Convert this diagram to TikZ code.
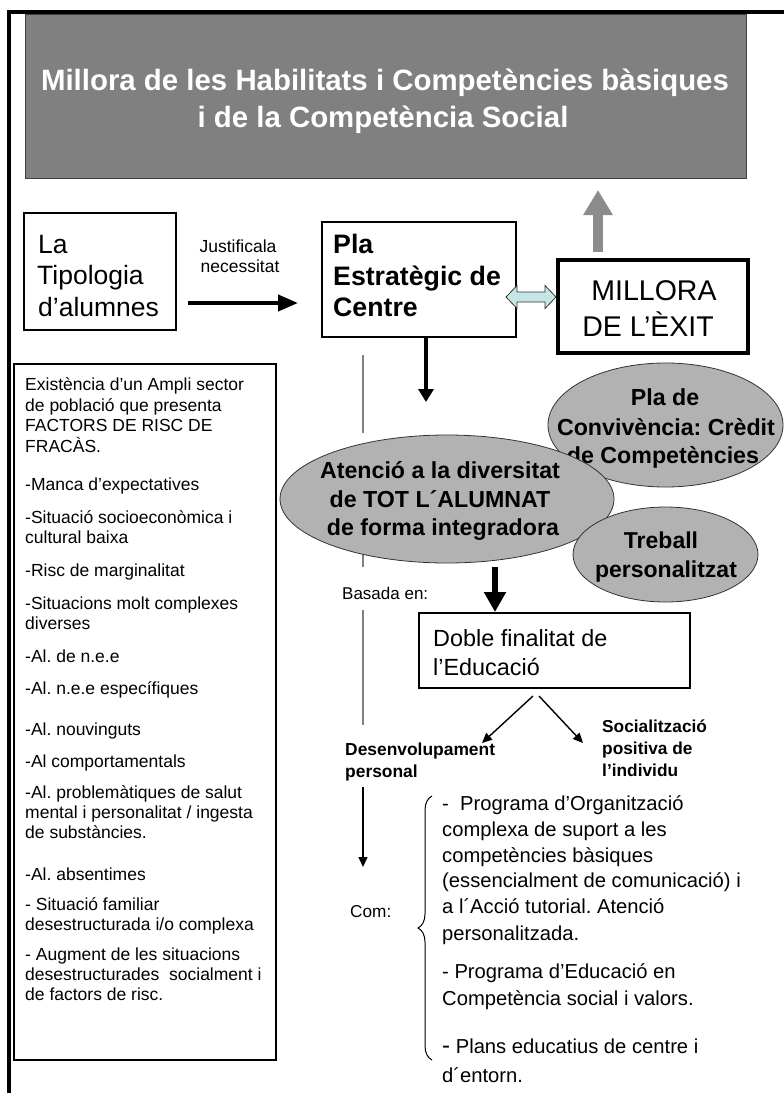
\documentclass[tikz,border=0pt]{standalone}
\usepackage{fontspec}
\setmainfont{Liberation Sans}
\usetikzlibrary{arrows.meta,shapes.geometric,decorations.pathreplacing}
\newcommand\myfs[1]{\fontsize{#1}{#1}\selectfont}
\definecolor{titlegray}{HTML}{808080}
\definecolor{ellgray}{HTML}{B2B2B2}
\definecolor{upgray}{HTML}{8C8C8C}
\definecolor{dblcyan}{HTML}{C4E6E6}
\begin{document}
\frenchspacing
\begin{tikzpicture}[x=1pt,y=-1pt,
  boxnode/.style={draw=black, line width=#1, inner sep=0, fill=white},
  ellnode/.style={ellipse, draw=black!80, line width=0.8, fill=ellgray, inner sep=0},
  txt/.style={anchor=base west, inner sep=0},
  ctxt/.style={anchor=base, inner sep=0},
  thinarrow/.style={line width=1.4, -{Triangle[width=9,length=10]}},
]
\useasboundingbox (0,0) rectangle (784,1093);

% title box
\node[draw=black!75, fill=titlegray, line width=1, inner sep=0,
      minimum width=721, minimum height=164] (title) at (385.5,96) {};
\node[ctxt, text=white, font=\bfseries\myfs{29.4}] (t1) at (385,90) {Millora de les Habilitats i Competències bàsiques};
\node[ctxt, text=white, font=\bfseries\myfs{29.4}] (t2) at (383,127) {i de la Competència Social};

% outer frame
\draw[line width=4] (9,1093) -- (9,12) -- (784,12);

% gray up arrow
\coordinate (upA) at (598,252);
\coordinate (upB) at (598,190);
\draw[upgray, line width=10, -{Triangle[width=28,length=25]}] (upA) -- (upB);

% La Tipologia box
\node[boxnode=2.5, minimum width=152, minimum height=117] (la) at (100,271.5) {};
\node[txt, font=\myfs{26.5}] (la1) at (38,253) {La};
\node[txt, font=\myfs{26.5}] (la2) at (37,284) {Tipologia};
\node[txt, font=\myfs{26.5}] (la3) at (38,316) {d’alumnes};

% Justifica label
\node[ctxt, font=\myfs{17.5}] (j1) at (238,252) {Justificala};
\node[ctxt, font=\myfs{17.5}] (j2) at (240,272) {necessitat};

% arrow La -> Pla
\coordinate (a1) at (188,303);
\coordinate (a2) at (298,303);
\draw[line width=4, -{Triangle[width=16,length=20]}] (a1) -- (a2);

% Pla box
\node[boxnode=2.5, minimum width=194, minimum height=115] (pla) at (419,279.5) {};
\node[txt, font=\bfseries\myfs{26.7}] (p1) at (333,253) {Pla};
\node[txt, font=\bfseries\myfs{26.7}] (p2) at (333,285) {Estratègic de};
\node[txt, font=\bfseries\myfs{26.7}] (p3) at (333,316) {Centre};

% MILLORA box
\node[boxnode=4, minimum width=190, minimum height=93] (mil) at (653,306.5) {};
\node[ctxt, font=\myfs{28.5}] (m1) at (654,300) {MILLORA};
\node[ctxt, font=\myfs{28.5}] (m2) at (648,336) {DE L’ÈXIT};

% double arrow Pla <-> MILLORA
\draw[fill=dblcyan, draw=black!80, line width=0.8]
  (506,297) -- (517,285.5) -- (517,292) -- (545,292) -- (545,285.5) -- (556,297)
  -- (545,308.5) -- (545,302) -- (517,302) -- (517,308.5) -- cycle;

% thick arrow Pla -> Atencio
\coordinate (b1) at (426,338);
\coordinate (b2) at (426,402);
\draw[line width=3.5, -{Triangle[width=15,length=13]}] (b1) -- (b2);

% thin gray vertical line
\draw[titlegray, line width=1.4] (363,355) -- (363,433);
\draw[titlegray, line width=1.4] (363,548) -- (363,567);
\draw[titlegray, line width=1.4] (363,610) -- (363,725);

% left box
\node[boxnode=2, minimum width=262.5, minimum height=696] (lb) at (144.75,712) {};
\foreach \yy/\tt in {390/{Existència d’un Ampli sector},
  411/{de població que presenta},
  431/{FACTORS DE RISC DE},
  452/{FRACÀS.},
  490/{-Manca d’expectatives},
  523/{-Situació socioeconòmica i},
  543/{cultural baixa},
  576/{-Risc de marginalitat},
  609/{-Situacions molt complexes},
  629/{diverses},
  662/{-Al. de n.e.e},
  694/{-Al. n.e.e específiques},
  735/{-Al. nouvinguts},
  767/{-Al comportamentals},
  798/{-Al. problemàtiques de salut},
  818/{mental i personalitat / ingesta},
  838/{de substàncies.},
  880/{-Al. absentimes},
  910/{- Situació familiar},
  930/{desestructurada i/o complexa},
  960/{- Augment de les situacions},
  980/{desestructurades\ \ socialment i},
  1000/{de factors de risc.}}
  \node[txt, font=\myfs{17.5}] (lt\yy) at (25,\yy) {\tt};

% ellipses
\node[ellnode, minimum width=235, minimum height=124] (conv) at (665.5,425) {};
\node[ctxt, font=\bfseries\myfs{23.2}] (c1) at (665,405) {Pla de};
\node[ctxt, font=\bfseries\myfs{23.2}] (c2) at (666,435) {Convivència: Crèdit};
\node[ctxt, font=\bfseries\myfs{23.2}] (c3) at (663,463) {de Competències};

\node[ellnode, minimum width=334, minimum height=128] (aten) at (447,499) {};
\node[ctxt, font=\bfseries\myfs{23.2}] (e1) at (440,478) {Atenció a la diversitat};
\node[ctxt, font=\bfseries\myfs{23.2}] (e2) at (440,507) {de TOT L´ALUMNAT};
\node[ctxt, font=\bfseries\myfs{23.2}] (e3) at (443,535) {de forma integradora};

\node[ellnode, minimum width=185, minimum height=95] (treb) at (665.5,554.5) {};
\node[ctxt, font=\bfseries\myfs{23}] (r1) at (661,548) {Treball};
\node[ctxt, font=\bfseries\myfs{23}] (r2) at (666,577) {personalitzat};

% arrow Atencio -> Doble
\coordinate (d1) at (495,567);
\coordinate (d2) at (495,612);
\draw[line width=6, -{Triangle[width=21,length=20]}] (d1) -- (d2);

% Basada en
\node[txt, font=\myfs{17}] (bas) at (342,599) {Basada en:};

% Doble box
\node[boxnode=2, minimum width=271, minimum height=75] (dob) at (554.5,650.5) {};
\node[txt, font=\myfs{23.4}] (o1) at (433,646) {Doble finalitat de};
\node[txt, font=\myfs{23.4}] (o2) at (433,675) {l’Educació};

% two arrows from Doble
\coordinate (s0) at (533,696);
\coordinate (s1) at (482,743);
\coordinate (s2) at (539,696);
\coordinate (s3) at (583,743);
\draw[thinarrow] (s0) -- (s1);
\draw[thinarrow] (s2) -- (s3);

\node[txt, font=\bfseries\myfs{17.4}] (dv1) at (345,755) {Desenvolupament};
\node[txt, font=\bfseries\myfs{17.4}] (dv2) at (345,777) {personal};
\node[txt, font=\bfseries\myfs{17.3}] (so1) at (602,732) {Socialització};
\node[txt, font=\bfseries\myfs{17.3}] (so2) at (602,754) {positiva de};
\node[txt, font=\bfseries\myfs{17.3}] (so3) at (602,776) {l’individu};

% arrow down from Desenvolupament
\coordinate (v1) at (363,787);
\coordinate (v2) at (363,867);
\draw[thinarrow] (v1) -- (v2);

\node[txt, font=\myfs{17.2}] (com) at (350,917) {Com:};

% brace
\coordinate (br1) at (432,1060);
\coordinate (br2) at (432,796);
\draw[line width=1, decorate, decoration={brace, amplitude=14pt}] (br1) -- (br2);

% right text block
\foreach \yy/\tt in {810/{-\ \ Programa d’Organització},
  836/{complexa de suport a les},
  862/{competències bàsiques},
  887/{(essencialment de comunicació) i},
  913/{a l´Acció tutorial. Atenció},
  940/{personalitzada.},
  978/{- Programa d’Educació en},
  1005/{Competència social i valors.},
  1053/{{\myfs{24}-}\ Plans educatius de centre i},
  1082/{d´entorn.}}
  \node[txt, font=\myfs{20.2}] (rt\yy) at (442,\yy) {\tt};
\end{tikzpicture}
\end{document}
